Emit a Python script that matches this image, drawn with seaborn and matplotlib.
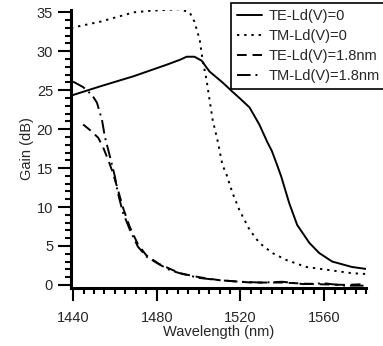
import matplotlib
matplotlib.use("Agg")
import matplotlib.pyplot as plt
from matplotlib.ticker import MultipleLocator
import seaborn as sns
import pandas as pd

# TE-Ld(V)=0 (solid)
te0_wl = [1439, 1453, 1469, 1485, 1491, 1494.3, 1498, 1501.4, 1505.2, 1511.4, 1516.2, 1519.5, 1524.3,
          1529, 1532.9, 1535, 1537.5, 1539.5, 1543.3, 1547.1, 1552.9, 1557.6, 1563.8, 1573.3, 1580]
te0_gain = [24.3, 25.5, 26.8, 28.3, 28.9, 29.3, 29.3, 28.8, 27.4, 26.0, 24.8, 24.0, 22.8,
            20.6, 18.3, 17.2, 15.4, 13.9, 10.5, 7.7, 5.4, 4.1, 3.0, 2.3, 2.05]

# TM-Ld(V)=0 (dotted)
tm0_wl = [1439, 1453, 1469, 1477, 1491, 1495.7, 1498, 1500.5, 1501.9, 1503.8, 1505.2, 1506.7, 1509,
          1511.4, 1513.3, 1516.2, 1519.5, 1524.3, 1529, 1535.2, 1541.9, 1551.4, 1562.4, 1573.3, 1580]
tm0_gain = [33.0, 33.8, 35.0, 35.2, 35.4, 35.0, 33.8, 31.5, 28.9, 26.3, 23.8, 21.2, 18.6,
            15.4, 14.2, 11.8, 9.6, 7.1, 5.4, 4.1, 3.2, 2.3, 1.9, 1.5, 1.4]

# TE-Ld(V)=1.8nm (dashed)
te18_wl = [1444.8, 1448, 1452, 1454.3, 1456.7, 1459, 1461, 1464, 1467, 1471, 1475, 1481, 1491,
           1500, 1510, 1525, 1540, 1555, 1570, 1580]
te18_gain = [20.6, 19.9, 18.9, 17.7, 16.1, 14.4, 12.6, 9.8, 7.5, 5.2, 3.8, 2.7, 1.5,
             1.0, 0.6, 0.3, 0.3, 0.1, 0.0, 0.1]

# TM-Ld(V)=1.8nm (dash-dot)
tm18_wl = [1440, 1444.8, 1449, 1451.4, 1453.8, 1455.2, 1457.6, 1460, 1461.4, 1463.8, 1467.1, 1471,
           1475.2, 1481.4, 1486.2, 1491, 1500, 1510, 1520, 1530, 1540, 1550, 1560, 1570, 1580]
tm18_gain = [26.1, 25.4, 24.4, 23.4, 21.2, 19.0, 16.5, 13.9, 11.8, 9.3, 7.1, 4.9,
             3.6, 2.6, 1.9, 1.5, 0.9, 0.6, 0.4, 0.3, 0.4, 0.1, 0.2, -0.1, -0.1]

labels = ["TE-Ld(V)=0", "TM-Ld(V)=0", "TE-Ld(V)=1.8nm", "TM-Ld(V)=1.8nm"]

sns.set_style("ticks")
plt.rcParams["font.family"] = ["Liberation Sans", "DejaVu Sans"]

fig = plt.figure(figsize=(3.83, 3.46), dpi=100)
ax = fig.add_axes([71 / 383, 1 - 288 / 346, 295 / 383, 278 / 346])

series = [
    (te0_wl, te0_gain, "-"),
    (tm0_wl, tm0_gain, (0, (1.2, 2.5))),
    (te18_wl, te18_gain, (0, (5, 3))),
    (tm18_wl, tm18_gain, (0, (7, 2.5, 1, 2.5))),
]
for (wl, g, ls), lab in zip(series, labels):
    df = pd.DataFrame({"wl": wl, "gain": g})
    sns.lineplot(data=df, x="wl", y="gain", ax=ax, color="black", lw=1.4,
                 linestyle=ls, label=lab, estimator=None, sort=False)

ax.set_xlim(1439, 1580)
ax.set_ylim(-0.4, 35.3)
ax.xaxis.set_major_locator(MultipleLocator(40))
ax.xaxis.set_minor_locator(MultipleLocator(5))
ax.yaxis.set_major_locator(MultipleLocator(5))
ax.yaxis.set_minor_locator(MultipleLocator(1))
ax.tick_params(which="major", length=9.4, width=1.5, labelsize=10.5, color="black")
ax.tick_params(which="minor", length=4.5, width=1.5, color="black")
ax.tick_params(axis="x", which="major", pad=7)
ax.tick_params(axis="y", which="major", pad=3.5)
for s in ["top", "right"]:
    ax.spines[s].set_visible(False)
for s in ["left", "bottom"]:
    ax.spines[s].set_linewidth(2.2)
    ax.spines[s].set_color("black")

ax.set_xlabel("Wavelength (nm)", fontsize=10.5, labelpad=0)
ax.set_ylabel("Gain (dB)", fontsize=10.5, labelpad=2)

leg = ax.legend(loc="upper right", bbox_to_anchor=(386 / 383, 1 - 3 / 346),
                bbox_transform=fig.transFigure, frameon=True, fancybox=False,
                fontsize=10.5, handlelength=1.7, borderpad=0.4,
                labelspacing=0.42, handletextpad=0.5, borderaxespad=0)
leg.get_frame().set_edgecolor("black")
leg.get_frame().set_linewidth(1.2)
leg.get_frame().set_alpha(1)

fig.savefig("out.png", dpi=100)
